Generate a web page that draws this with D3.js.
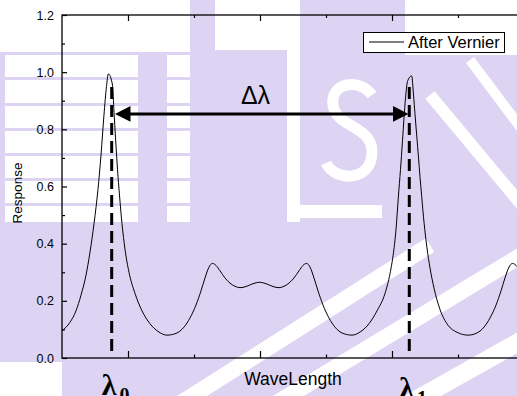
<!DOCTYPE html>
<html>
<head>
<meta charset="utf-8">
<script src="https://cdn.jsdelivr.net/npm/d3@7"></script>
<style>
  html, body { margin: 0; padding: 0; background: #fff; }
  svg { display: block; font-family: "Liberation Sans", Arial, sans-serif; }
</style>
</head>
<body>
<svg id="chart" width="517" height="396"></svg>
<script>
// Vernier response vs. wavelength (arbitrary wavelength units, no tick labels)
const wavelength = [
  -1.000, -0.879, -0.788, -0.712, -0.636, -0.576, -0.515, -0.455, -0.409, -0.364,
  -0.326, -0.298, -0.235, -0.212, -0.189, -0.159, -0.129, -0.091, -0.045, 0.015,
  0.106, 0.212, 0.333, 0.455, 0.591, 0.727, 0.848, 0.939, 1.030, 1.106,
  1.167, 1.227, 1.280, 1.333, 1.394, 1.470, 1.545, 1.621, 1.697, 1.788,
  1.894, 1.992, 2.091, 2.197, 2.288, 2.364, 2.439, 2.515, 2.591, 2.652,
  2.705, 2.758, 2.818, 2.879, 2.955, 3.045, 3.136, 3.258, 3.394, 3.530,
  3.652, 3.773, 3.894, 3.970, 4.023, 4.061, 4.095, 4.129, 4.159, 4.182,
  4.205, 4.238, 4.298, 4.326, 4.348, 4.374, 4.402, 4.424, 4.450, 4.485,
  4.530, 4.576, 4.636, 4.727, 4.848, 4.985, 5.152, 5.273, 5.394, 5.485,
  5.576, 5.652, 5.712, 5.773, 5.826, 5.879, 5.939, 6.000
];
const response = [
  0.095, 0.125, 0.165, 0.220, 0.290, 0.370, 0.470, 0.590, 0.710, 0.850,
  0.950, 0.994, 0.955, 0.860, 0.770, 0.660, 0.570, 0.470, 0.380, 0.300,
  0.226, 0.165, 0.120, 0.093, 0.080, 0.086, 0.108, 0.140, 0.185, 0.235,
  0.280, 0.318, 0.331, 0.324, 0.305, 0.280, 0.262, 0.251, 0.246, 0.250,
  0.260, 0.265, 0.260, 0.250, 0.246, 0.251, 0.262, 0.280, 0.305, 0.324,
  0.331, 0.318, 0.280, 0.235, 0.185, 0.140, 0.108, 0.086, 0.080, 0.093,
  0.120, 0.165, 0.226, 0.295, 0.370, 0.450, 0.560, 0.660, 0.760, 0.840,
  0.910, 0.970, 0.987, 0.920, 0.855, 0.780, 0.700, 0.635, 0.565, 0.475,
  0.385, 0.315, 0.245, 0.170, 0.115, 0.090, 0.080, 0.086, 0.108, 0.140,
  0.185, 0.235, 0.280, 0.318, 0.331, 0.324, 0.305, 0.285
];
const yMajorTicks = [0.0, 0.2, 0.4, 0.6, 0.8, 1.0, 1.2];
const yTickLabels = ["0.0", "0.2", "0.4", "0.6", "0.8", "1.0", "1.2"];
const yMinorTicks = [0.1, 0.3, 0.5, 0.7, 0.9, 1.1];
const xMajorTicks = [0, 2, 4, 6];
const xMinorTicks = [1, 3, 5];
const seriesName = "After Vernier";
const xTitle = "WaveLength";
const yTitle = "Response";
const markerNames = ["0", "1"];
const markerWavelength = [-0.247, 4.262];
const markerTop = 0.948;
const spacingLabel = "Δλ";
const spacingLevel = 0.854;

const W = 517, H = 396;
const plot = { left: 62, right: 524, top: 15, bottom: 358 };
const svg = d3.select("#chart");
const lavender = "#ddd4f3";

// faint logo watermark behind the chart
const wm = svg.append("g").attr("class", "watermark");
wm.append("rect").attr("width", W).attr("height", H).attr("fill", lavender);
const whiteRects = [
  [0, 0, 190, 52], [215, 0, 85, 50], [405, 0, 112, 55], [5, 55, 185, 167],
  [287, 50, 13, 172], [287, 205, 95, 13]
];
whiteRects.forEach(r => wm.append("rect")
  .attr("x", r[0]).attr("y", r[1]).attr("width", r[2]).attr("height", r[3]).attr("fill", "#fff"));
[77, 103, 128, 153, 178, 203].forEach(yy => wm.append("rect")
  .attr("x", 0).attr("y", yy).attr("width", 190).attr("height", 3).attr("fill", lavender));
wm.append("rect").attr("x", 138).attr("y", 52).attr("width", 29).attr("height", 170).attr("fill", lavender);
wm.append("rect").attr("x", 0).attr("y", 52).attr("width", 5).attr("height", 170).attr("fill", lavender);
wm.append("path")
  .attr("d", "M372,95 C360,78 330,82 333,105 C336,128 372,125 372,152 C372,182 335,182 326,163")
  .attr("fill", "none").attr("stroke", "#fff").attr("stroke-width", 11);
[["M170,410 L430,245", 16], ["M265,410 L530,250", 16], ["M380,420 L540,330", 18],
 ["M430,95 L530,215", 12], ["M470,60 L530,140", 10]].forEach(s => wm.append("path")
  .attr("d", s[0]).attr("fill", "none").attr("stroke", "#fff").attr("stroke-width", s[1]));
wm.append("path").attr("d", "M0,362 L62,362 L62,396 L0,396 Z").attr("fill", "#fff");

const x = d3.scaleLinear().domain([-1, 6]).range([plot.left, plot.right]);
const y = d3.scaleLinear().domain([0, 1.2]).range([plot.bottom, plot.top]);

svg.append("defs").append("clipPath").attr("id", "plotClip")
  .append("rect").attr("x", plot.left).attr("y", plot.top)
  .attr("width", plot.right - plot.left).attr("height", plot.bottom - plot.top);

// axes with inward ticks
const axisStyle = g => {
  g.selectAll(".domain").remove();
  g.selectAll(".tick line").attr("stroke", "#000").attr("stroke-width", 1.2);
};
svg.append("g").attr("transform", `translate(${plot.left},0)`)
  .call(d3.axisLeft(y).tickValues(yMajorTicks).tickSize(-5).tickPadding(8)
    .tickFormat((d, i) => yTickLabels[i]))
  .call(axisStyle)
  .call(g => g.selectAll("text").attr("font-size", 12.5).attr("fill", "#000")
    .attr("font-family", "Liberation Sans, Arial, sans-serif"));
svg.append("g").attr("transform", `translate(${plot.left},0)`)
  .call(d3.axisLeft(y).tickValues(yMinorTicks).tickSize(-3).tickFormat(""))
  .call(axisStyle);
svg.append("g").attr("transform", `translate(0,${plot.bottom})`)
  .call(d3.axisBottom(x).tickValues(xMajorTicks).tickSize(-7).tickFormat(""))
  .call(axisStyle);
svg.append("g").attr("transform", `translate(0,${plot.bottom})`)
  .call(d3.axisBottom(x).tickValues(xMinorTicks).tickSize(-3.5).tickFormat(""))
  .call(axisStyle);
svg.append("g").attr("transform", `translate(0,${plot.top})`)
  .call(d3.axisTop(x).tickValues(xMajorTicks).tickSize(-6).tickFormat(""))
  .call(axisStyle);
svg.append("g").attr("transform", `translate(0,${plot.top})`)
  .call(d3.axisTop(x).tickValues(xMinorTicks).tickSize(-3).tickFormat(""))
  .call(axisStyle);

// frame
svg.append("rect").attr("x", plot.left).attr("y", plot.top)
  .attr("width", plot.right - plot.left).attr("height", plot.bottom - plot.top)
  .attr("fill", "none").attr("stroke", "#000").attr("stroke-width", 1.3);

// response curve
const pts = wavelength.map((w, i) => [w, response[i]]);
svg.append("path").datum(pts)
  .attr("clip-path", "url(#plotClip)")
  .attr("fill", "none").attr("stroke", "#000").attr("stroke-width", 1)
  .attr("d", d3.line().x(d => x(d[0])).y(d => y(d[1])).curve(d3.curveMonotoneX));

// resonance markers
markerWavelength.forEach(w => {
  svg.append("line")
    .attr("x1", x(w)).attr("x2", x(w))
    .attr("y1", y(markerTop)).attr("y2", y(0.015))
    .attr("stroke", "#000").attr("stroke-width", 3)
    .attr("stroke-dasharray", "12,6");
});

// spacing arrow between the two resonances
const ay = y(spacingLevel);
const ax0 = x(markerWavelength[0]) + 3.3, ax1 = x(markerWavelength[1]) - 0.8;
const headL = 15.5, headH = 7.8;
svg.append("line").attr("x1", ax0 + headL - 1).attr("x2", ax1 - headL + 1)
  .attr("y1", ay).attr("y2", ay).attr("stroke", "#000").attr("stroke-width", 3);
svg.append("path").attr("fill", "#000")
  .attr("d", `M${ax0},${ay} L${ax0 + headL},${ay - headH} L${ax0 + headL},${ay + headH} Z`);
svg.append("path").attr("fill", "#000")
  .attr("d", `M${ax1},${ay} L${ax1 - headL},${ay - headH} L${ax1 - headL},${ay + headH} Z`);
svg.append("text").attr("x", (x(markerWavelength[0]) + x(markerWavelength[1])) / 2 - 5)
  .attr("y", ay - 10).attr("text-anchor", "middle").attr("font-size", 25)
  .text(spacingLabel);

// marker labels below the axis
markerWavelength.forEach((w, i) => {
  const t = svg.append("text").attr("x", x(w) - 10).attr("y", 395 + i * 3)
    .attr("font-family", "Liberation Serif, Times New Roman, serif")
    .attr("font-weight", "bold").attr("font-size", 30);
  t.append("tspan").text("λ");
  t.append("tspan").attr("font-size", 20).attr("dx", 3).attr("dy", 7).text(markerNames[i]);
});

// axis titles
svg.append("text").attr("x", (plot.left + plot.right) / 2).attr("y", 385)
  .attr("text-anchor", "middle").attr("font-size", 17.5).text(xTitle);
svg.append("text").attr("transform", "translate(22,193) rotate(-90)")
  .attr("text-anchor", "middle").attr("font-size", 13.5).text(yTitle);

// legend
const lg = svg.append("g");
lg.append("rect").attr("x", 363.5).attr("y", 32.5).attr("width", 141).attr("height", 20)
  .attr("fill", "#fff").attr("stroke", "#000").attr("stroke-width", 1);
lg.append("line").attr("x1", 369).attr("x2", 404).attr("y1", 42).attr("y2", 42)
  .attr("stroke", "#000").attr("stroke-width", 1);
lg.append("text").attr("x", 408).attr("y", 47.8).attr("font-size", 16.5).text(seriesName);
</script>
</body>
</html>
